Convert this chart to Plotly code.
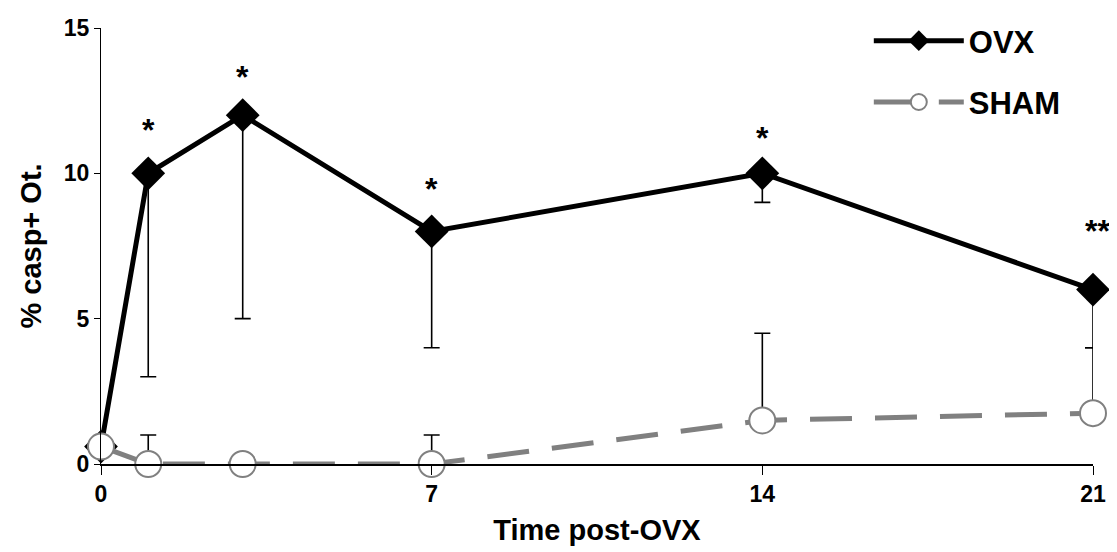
import plotly.graph_objects as go

days = [0, 1, 3, 7, 14, 21]
ovx = [0.6, 10, 12, 8, 10, 6]
ovx_err_minus = [0, 7, 7, 4, 1, 2]
sham = [0.6, 0, 0, 0, 1.5, 1.75]
sham_err_plus = [0, 1, 0, 1, 3, 2.25]

star_x = [1, 3, 7, 14, 21]
star_y = [11.5, 13.3, 9.45, 11.2, 8.0]
star_text = ["*", "*", "*", "*", "**"]
star_shift = [0, 0, 0, 0, 4]

x_ticks = [0, 7, 14, 21]
y_ticks = [0, 5, 10, 15]

FONT = "Liberation Sans, Arial, sans-serif"

fig = go.Figure()

fig.add_trace(go.Scatter(
    x=days, y=ovx, name="<b>OVX</b>", mode="lines+markers",
    line=dict(color="black", width=5),
    marker=dict(symbol="diamond", size=26, color="black", line=dict(width=0)),
    error_y=dict(type="data", symmetric=False, array=[0] * len(days),
                 arrayminus=ovx_err_minus, color="black", thickness=1.6, width=8),
    cliponaxis=False, legendrank=1, legendgroup="a",
))

fig.add_trace(go.Scatter(
    x=days, y=sham, name="<b>SHAM</b>", mode="lines+markers",
    line=dict(color="#808080", width=5, dash="42px,23px"),
    marker=dict(symbol="circle", size=26, color="white",
                line=dict(color="#808080", width=2)),
    error_y=dict(type="data", symmetric=False, array=sham_err_plus,
                 arrayminus=[0] * len(days), color="black", thickness=1.6, width=8),
    cliponaxis=False, legendrank=2, legendgroup="b",
))

for sx, sy, st, sh in zip(star_x, star_y, star_text, star_shift):
    fig.add_annotation(x=sx, y=sy, text="<b>" + st + "</b>", showarrow=False,
                       xshift=sh,
                       font=dict(family=FONT, size=32, color="black"),
                       xanchor="center", yanchor="middle")

# the page body adds an 8px margin, so the figure is 8px smaller than the window
fig.update_layout(
    width=1109, height=544,
    margin=dict(l=93, r=24, t=20, b=88, autoexpand=False),
    plot_bgcolor="white", paper_bgcolor="white",
    font=dict(family=FONT, color="black"),
    showlegend=True,
    legend=dict(x=0.774, y=1.032, xanchor="left", yanchor="top",
                font=dict(family=FONT, size=31, color="black"),
                bgcolor="rgba(0,0,0,0)", tracegroupgap=18,
                itemwidth=90),
    xaxis=dict(range=[0, 21], tickvals=x_ticks,
               ticktext=["<b>%d</b>" % v for v in x_ticks],
               showline=True, linecolor="black", linewidth=1.5,
               ticks="outside", ticklen=9, tickcolor="black", tickwidth=1,
               showgrid=False, zeroline=False,
               tickfont=dict(family=FONT, size=23, color="black"),
               title=dict(text="<b>Time post-OVX</b>", standoff=13,
                          font=dict(family=FONT, size=29, color="black"))),
    yaxis=dict(range=[0, 15], tickvals=y_ticks,
               ticktext=["<b>%d</b>" % v for v in y_ticks],
               showline=True, linecolor="black", linewidth=1,
               ticks="outside", ticklen=6, tickcolor="black", tickwidth=1,
               showgrid=False, zeroline=False,
               tickfont=dict(family=FONT, size=23, color="black"),
               title=dict(text="<b>% casp+ Ot.</b>", standoff=13,
                          font=dict(family=FONT, size=29, color="black"))),
)

fig.write_html("out.html")
